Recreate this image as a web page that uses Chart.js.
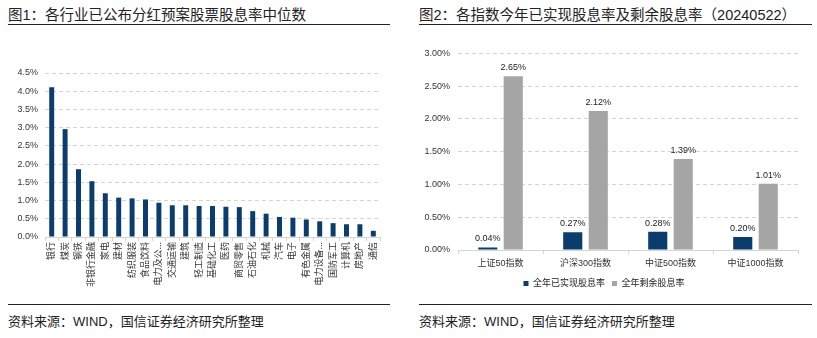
<!DOCTYPE html>
<html lang="zh-CN">
<head>
<meta charset="UTF-8">
<title>股息率</title>
<script src="https://cdn.jsdelivr.net/npm/chart.js"></script>
<style>
  body {
    margin: 0;
    width: 817px;
    height: 338px;
    background: #fff;
    position: relative;
    overflow: hidden;
    font-family: "Liberation Sans", "Noto Sans CJK SC", sans-serif;
    color: #222;
  }
  .title { position: absolute; top: 3px; font-size: 14.5px; white-space: nowrap; }
  .rule { position: absolute; height: 1.5px; background: #222; }
  .source { position: absolute; top: 311px; font-size: 13px; white-space: nowrap; }
  canvas { position: absolute; }
</style>
</head>
<body>
  <div class="title" style="left:8px">图1：各行业已公布分红预案股票股息率中位数</div>
  <div class="rule" style="left:8px; width:382px; top:23.5px"></div>
  <div class="title" style="left:419px">图2：各指数今年已实现股息率及剩余股息率（20240522）</div>
  <div class="rule" style="left:419px; width:393px; top:23.5px"></div>

  <canvas id="industryChart" width="400" height="240" style="left:0; top:60px"></canvas>
  <canvas id="indexChart" width="407" height="258" style="left:410px; top:40px"></canvas>

  <div class="rule" style="left:8px; width:382px; top:303.5px"></div>
  <div class="source" style="left:8px">资料来源：WIND，国信证券经济研究所整理</div>
  <div class="rule" style="left:419px; width:393px; top:303.5px"></div>
  <div class="source" style="left:419px">资料来源：WIND，国信证券经济研究所整理</div>

  <script>
    // 图1 data
    const industries = ['银行', '煤炭', '钢铁', '非银行金融', '家电', '建材', '纺织服装', '食品饮料',
      '电力及公...', '交通运输', '建筑', '轻工制造', '基础化工', '医药', '商贸零售', '石油石化',
      '机械', '汽车', '电子', '有色金属', '电力设备...', '国防军工', '计算机', '房地产', '通信'];
    const industryYield = [4.11, 2.96, 1.86, 1.53, 1.20, 1.08, 1.06, 1.03,
      0.94, 0.87, 0.87, 0.85, 0.85, 0.83, 0.82, 0.71,
      0.64, 0.55, 0.53, 0.48, 0.43, 0.38, 0.35, 0.35, 0.17];

    // 图2 data
    const indexNames = ['上证50指数', '沪深300指数', '中证500指数', '中证1000指数'];
    const realizedYield = [0.04, 0.27, 0.28, 0.20];
    const remainingYield = [2.65, 2.12, 1.39, 1.01];

    const BLUE = '#0a3d6e';
    const GRAY = '#a5a5a5';
    const GRID = '#d4d4d4';

    Chart.defaults.font.family = '"Liberation Sans", "Noto Sans CJK SC", sans-serif';
    Chart.defaults.font.size = 9;
    Chart.defaults.color = '#333';
    Chart.defaults.animation = false;

    new Chart(document.getElementById('industryChart'), {
      type: 'bar',
      data: {
        labels: industries,
        datasets: [{
          data: industryYield,
          backgroundColor: BLUE,
          barPercentage: 0.37,
          categoryPercentage: 1
        }]
      },
      options: {
        responsive: false,
        layout: { padding: { top: 13, right: 20, left: 0, bottom: 0 } },
        plugins: { legend: { display: false }, tooltip: { enabled: false } },
        scales: {
          x: {
            grid: { offset: true, drawOnChartArea: false, color: GRID, tickLength: 4 },
            border: { color: GRID },
            ticks: { minRotation: 90, maxRotation: 90, autoSkip: false, padding: 1 },
            afterFit: s => { s.height = 63; }
          },
          y: {
            min: 0,
            max: 4.5,
            grid: { color: GRID, drawTicks: false },
            border: { display: false, dash: [4, 3] },
            ticks: { stepSize: 0.5, padding: 7, callback: v => v.toFixed(1) + '%' },
            afterFit: s => { s.width = 45; }
          }
        }
      }
    });

    const valueLabels = {
      id: 'valueLabels',
      afterDatasetsDraw(chart) {
        const ctx = chart.ctx;
        ctx.save();
        ctx.font = '9px "Liberation Sans", sans-serif';
        ctx.fillStyle = '#222';
        ctx.textAlign = 'center';
        ctx.textBaseline = 'bottom';
        chart.data.datasets.forEach((ds, i) => {
          chart.getDatasetMeta(i).data.forEach((bar, j) => {
            ctx.fillText(ds.data[j].toFixed(2) + '%', bar.x, bar.y - 4);
          });
        });
        ctx.restore();
      }
    };

    new Chart(document.getElementById('indexChart'), {
      type: 'bar',
      data: {
        labels: indexNames,
        datasets: [
          { label: '全年已实现股息率', data: realizedYield, backgroundColor: BLUE },
          { label: '全年剩余股息率', data: remainingYield, backgroundColor: GRAY }
        ]
      },
      options: {
        responsive: false,
        barPercentage: 0.75,
        categoryPercentage: 0.6,
        layout: { padding: { top: 10, right: 19, left: 0, bottom: 0 } },
        plugins: {
          tooltip: { enabled: false },
          legend: {
            position: 'bottom',
            labels: { boxWidth: 5, boxHeight: 5, padding: 7, font: { size: 9 }, color: '#222' }
          }
        },
        scales: {
          x: {
            grid: { offset: true, drawOnChartArea: false, color: GRID, tickLength: 4 },
            border: { color: GRID },
            ticks: { padding: 4 },
            afterFit: s => { s.height = 22; }
          },
          y: {
            min: 0,
            max: 3,
            grid: { color: GRID, drawTicks: false },
            border: { display: false, dash: [4, 3] },
            ticks: { stepSize: 0.5, padding: 8, callback: v => v.toFixed(2) + '%' },
            afterFit: s => { s.width = 48; }
          }
        }
      },
      plugins: [valueLabels]
    });
  </script>
</body>
</html>
